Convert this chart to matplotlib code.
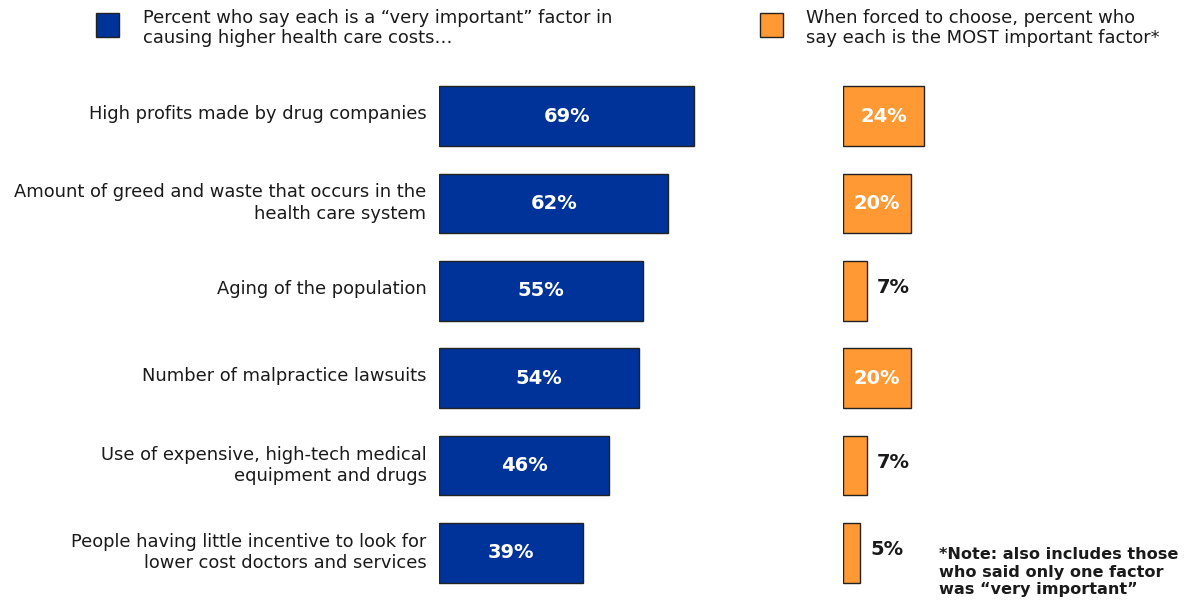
import matplotlib
matplotlib.use("Agg")
import matplotlib.pyplot as plt
import matplotlib.transforms as mtransforms

# 데이터
categories = [
    "High profits made by drug companies",
    "Amount of greed and waste that occurs in the\nhealth care system",
    "Aging of the population",
    "Number of malpractice lawsuits",
    "Use of expensive, high-tech medical\nequipment and drugs",
    "People having little incentive to look for\nlower cost doctors and services",
]
very_important = [69, 62, 55, 54, 46, 39]
most_important = [24, 20, 7, 20, 7, 5]

legend_left = "Percent who say each is a \u201cvery important\u201d factor in\ncausing higher health care costs\u2026"
legend_right = "When forced to choose, percent who\nsay each is the MOST important factor*"
note = "*Note: also includes those\nwho said only one factor\nwas \u201cvery important\u201d"

BLUE = "#003399"
ORANGE = "#FF9933"
EDGE = "#222222"
TXT = "#1a1a1a"

plt.rcParams["font.family"] = ["DejaVu Sans"]

W, H = 1184, 600
fig = plt.figure(figsize=(W / 100, H / 100), dpi=100)

# 축 위치 (픽셀 기준 → figure 비율)
step = 87.4
top_px = 116 - step / 2
ax_h = step * 6
bottom = (H - (top_px + ax_h)) / H

axL = fig.add_axes([439 / W, bottom, 370 / W, ax_h / H])
axR = fig.add_axes([843 / W, bottom, 337.5 / W, ax_h / H])

y = list(range(len(categories)))
bar_h = 0.68

axL.barh(y, very_important, height=bar_h, color=BLUE, edgecolor=EDGE, linewidth=1)
for yi, v in zip(y, very_important):
    axL.text(v / 2, yi, f"{v}%", ha="center", va="center", color="white",
             fontsize=14, fontweight="bold")

axR.barh(y, most_important, height=bar_h, color=ORANGE, edgecolor=EDGE, linewidth=1)
for yi, v in zip(y, most_important):
    if v >= 15:
        axR.text(v / 2, yi, f"{v}%", ha="center", va="center", color="white",
                 fontsize=14, fontweight="bold")
    else:
        axR.text(v + 3, yi - 0.04, f"{v}%", ha="left", va="center", color=TXT,
                 fontsize=14, fontweight="bold")

for ax in (axL, axR):
    ax.set_xlim(0, 100)
    ax.set_ylim(len(categories) - 0.5, -0.5)
    for s in ax.spines.values():
        s.set_visible(False)
    ax.set_xticks([])

axL.set_yticks(y)
axL.set_yticklabels(categories, fontsize=12.9, color=TXT, ha="right",
                    multialignment="right", linespacing=1.25)
axL.tick_params(axis="y", length=0, pad=9)
# 라벨을 막대 중심보다 살짝 위로
shift = mtransforms.ScaledTranslation(0, 4 / 100, fig.dpi_scale_trans)
for t in axL.get_yticklabels():
    t.set_transform(t.get_transform() + shift)
axR.set_yticks([])

# 범례
fig.patches.append(plt.Rectangle((96 / W, 1 - 37 / H), 23 / W, 24 / H,
                                 transform=fig.transFigure, facecolor=BLUE,
                                 edgecolor=EDGE, linewidth=1))
fig.patches.append(plt.Rectangle((760 / W, 1 - 37 / H), 23 / W, 24 / H,
                                 transform=fig.transFigure, facecolor=ORANGE,
                                 edgecolor=EDGE, linewidth=1))
fig.text(143 / W, 1 - 28 / H, legend_left, ha="left", va="center",
         fontsize=12.9, color=TXT, linespacing=1.1)
fig.text(806 / W, 1 - 28 / H, legend_right, ha="left", va="center",
         fontsize=12.9, color=TXT, linespacing=1.1)

fig.text(939 / W, 1 - 572 / H, note, ha="left", va="center",
         fontsize=11.6, fontweight="bold", color=TXT, linespacing=1.2)

fig.savefig("out.png", dpi=100, facecolor="white")
